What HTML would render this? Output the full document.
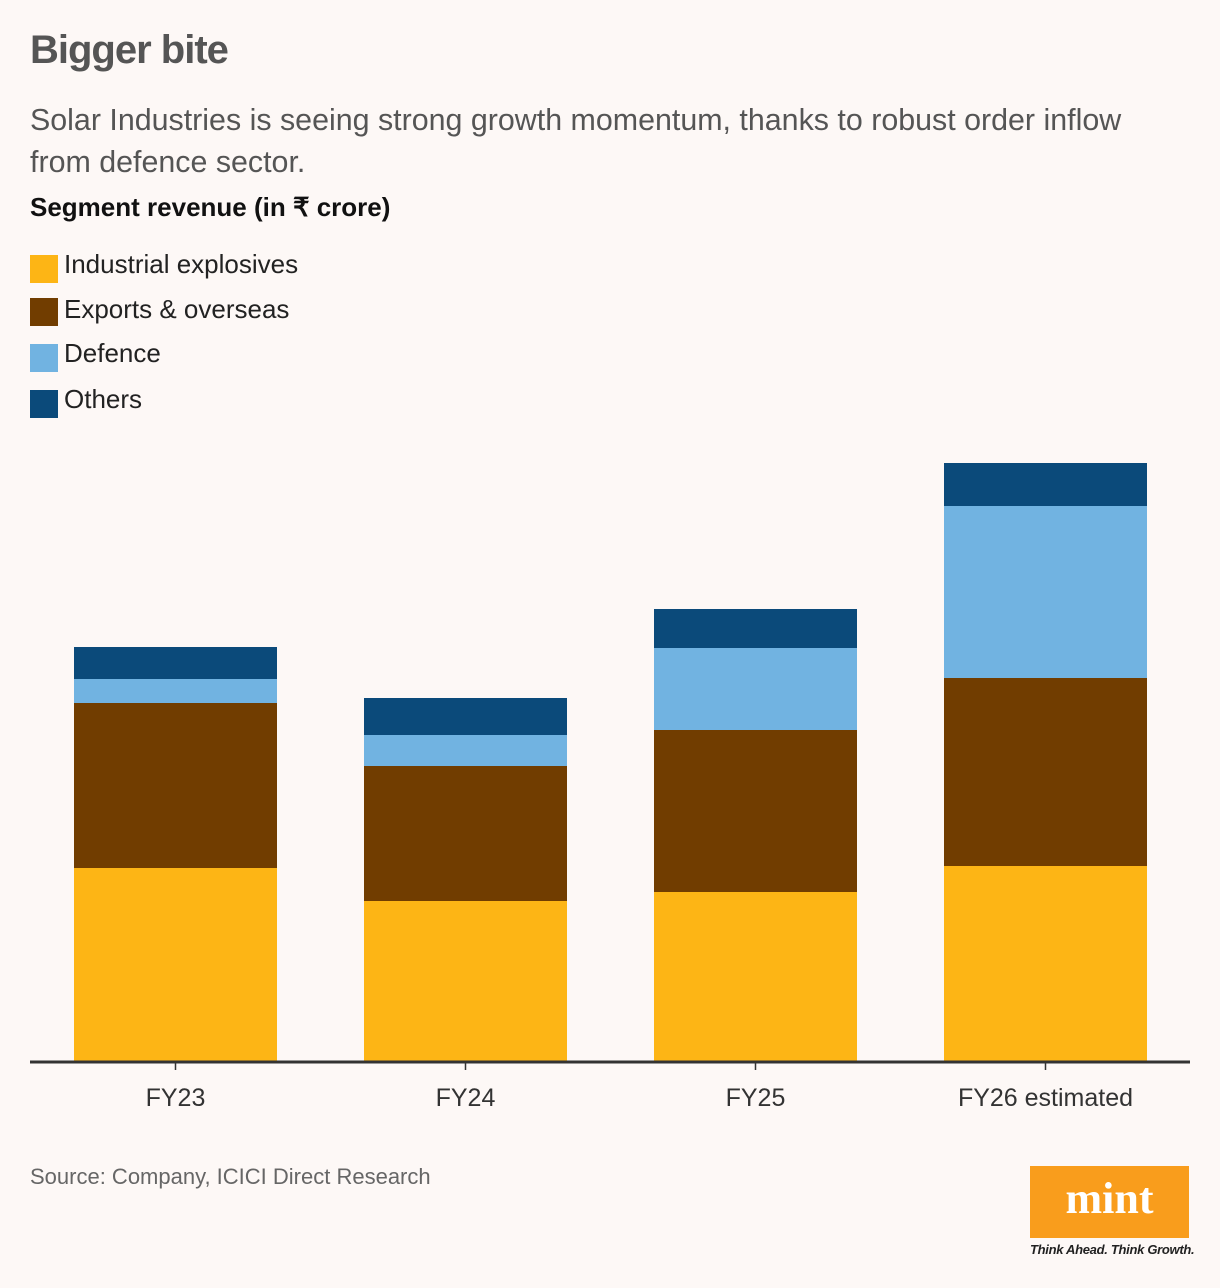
<!DOCTYPE html>
<html><head><meta charset="utf-8">
<style>
body{margin:0;background:#fdf8f6;font-family:"Liberation Sans",sans-serif;}
#wrap{position:relative;width:1220px;height:1288px;overflow:hidden;background:#fdf8f6;}
.t{position:absolute;white-space:nowrap;}
.sw{position:absolute;width:28px;height:28px;left:30px;}
</style></head><body>
<div id="wrap">
<div class="t" style="left:30px;top:28px;font-size:40px;font-weight:bold;color:#555;letter-spacing:-1px;">Bigger bite</div>
<div class="t" style="left:30px;top:99px;font-size:30.4px;color:#555;line-height:42px;">Solar Industries is seeing strong growth momentum, thanks to robust order inflow<br>from defence sector.</div>
<div class="t" style="left:30px;top:192px;font-size:26px;font-weight:bold;color:#111;">Segment revenue (in ₹ crore)</div>
<div class="sw" style="top:255px;background:#fdb515"></div>
<div class="t" style="left:64px;top:249px;font-size:26px;color:#222;">Industrial explosives</div>
<div class="sw" style="top:298px;background:#713d00"></div>
<div class="t" style="left:64px;top:294px;font-size:26px;color:#222;">Exports &amp; overseas</div>
<div class="sw" style="top:344px;background:#71b3e1"></div>
<div class="t" style="left:64px;top:338px;font-size:26px;color:#222;">Defence</div>
<div class="sw" style="top:390px;background:#0b4a7a"></div>
<div class="t" style="left:64px;top:384px;font-size:26px;color:#222;">Others</div>
<svg id="chart" width="1220" height="1288" style="position:absolute;left:0;top:0"></svg>
<div class="t" style="left:30px;top:1164px;font-size:22px;color:#666;">Source: Company, ICICI Direct Research</div>
<div style="position:absolute;left:1030px;top:1166px;width:159px;height:72px;background:#f99d1c;color:#fff;font-family:'Liberation Serif',serif;font-weight:bold;font-size:44px;text-align:center;line-height:66px;">mint</div>
<div class="t" style="left:1030px;top:1242px;font-size:13px;font-style:italic;font-weight:bold;color:#222;letter-spacing:-0.3px;">Think Ahead. Think Growth.</div>
</div>
<script>
const categories=["FY23","FY24","FY25","FY26 estimated"];
const industrial=[1930,1600,1690,1950];
const exportsO=[1650,1350,1620,1880];
const defence=[240,310,820,1720];
const others=[320,370,390,430];
const seriesNames=["industrial","exports","defence","others"];
const colors=["#fdb515","#713d00","#71b3e1","#0b4a7a"];
const series=[industrial,exportsO,defence,others];
const svg=document.getElementById('chart');
const NS="http://www.w3.org/2000/svg";
const base=1061, pxPer=0.1;
const y=v=>base-v*pxPer;
const xc=i=>175.5+i*290;
const bw=203;
categories.forEach((c,i)=>{
  let acc=0;
  series.forEach((s,k)=>{
    const r=document.createElementNS(NS,'rect');
    r.setAttribute('x',xc(i)-bw/2);
    r.setAttribute('y',y(acc+s[i]));
    r.setAttribute('width',bw);
    r.setAttribute('height',s[i]*pxPer);
    r.setAttribute('fill',colors[k]);
    
    
    svg.appendChild(r);
    acc+=s[i];
  });
  const t=document.createElementNS(NS,'line');
  t.setAttribute('x1',xc(i));t.setAttribute('x2',xc(i));
  t.setAttribute('y1',base);t.setAttribute('y2',base+9);
  t.setAttribute('stroke','#333');t.setAttribute('stroke-width','1.5');
  
  
  svg.appendChild(t);
  const l=document.createElementNS(NS,'text');
  l.setAttribute('x',xc(i));l.setAttribute('y',1106);
  l.setAttribute('text-anchor','middle');
  l.setAttribute('font-size','25');l.setAttribute('fill','#333');
  l.setAttribute('font-family','Liberation Sans, sans-serif');
  l.textContent=c;
  
  
  svg.appendChild(l);
});
const ax=document.createElementNS(NS,'line');
ax.setAttribute('x1',30);ax.setAttribute('x2',1190);
ax.setAttribute('y1',base+1);ax.setAttribute('y2',base+1);
ax.setAttribute('stroke','#333');ax.setAttribute('stroke-width','3');


svg.appendChild(ax);
</script>
</body></html>
